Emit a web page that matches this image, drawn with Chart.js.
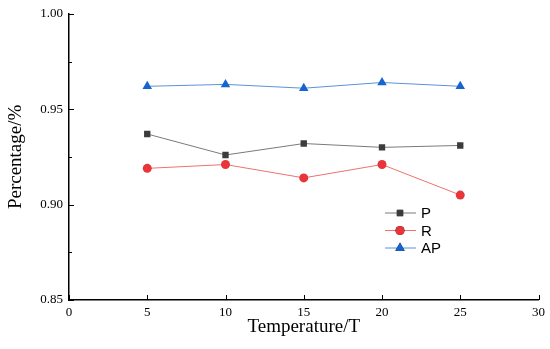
<!DOCTYPE html>
<html>
<head>
<meta charset="utf-8">
<script src="https://cdn.jsdelivr.net/npm/chart.js@4"></script>
<style>
  html, body { margin: 0; padding: 0; background: #fff; }
  #wrap { width: 550px; height: 349px; }
</style>
</head>
<body>
<div id="wrap"><canvas id="linechart"></canvas></div>
<script>
'use strict';
const temps = [5, 10, 15, 20, 25];
const pVals = [0.937, 0.926, 0.932, 0.930, 0.931];
const rVals = [0.919, 0.921, 0.914, 0.921, 0.905];
const apVals = [0.962, 0.963, 0.961, 0.964, 0.962];
const seriesNames = ['P', 'R', 'AP'];

const toPoints = vals => temps.map((t, i) => ({x: t, y: vals[i]}));

// inward tick marks on bottom and left axes
const inwardTicks = {
    id: 'inwardTicks',
    afterDraw(chart) {
        const ctx = chart.ctx;
        const xs = chart.scales.x, ys = chart.scales.y;
        ctx.save();
        ctx.strokeStyle = '#000';
        ctx.lineWidth = 1;
        ctx.beginPath();
        xs.ticks.forEach(t => {
            const px = Math.round(xs.getPixelForValue(t.value)) + 0.5;
            ctx.moveTo(px, ys.bottom);
            ctx.lineTo(px, ys.bottom - 5);
        });
        ys.ticks.forEach(t => {
            const py = Math.round(ys.getPixelForValue(t.value)) + 0.5;
            const major = Math.abs(Math.round(t.value * 1000) % 50) < 1;
            ctx.moveTo(xs.left, py);
            ctx.lineTo(xs.left + (major ? 5 : 3), py);
        });
        ctx.stroke();
        ctx.restore();
    }
};

// legend drawn inside the plot
const innerLegend = {
    id: 'innerLegend',
    afterDraw(chart) {
        const ctx = chart.ctx;
        ctx.save();
        chart.data.datasets.forEach((ds, i) => {
            const y = 213 + i * 17.5;
            ctx.strokeStyle = ds.borderColor;
            ctx.lineWidth = 1;
            ctx.beginPath();
            ctx.moveTo(385, y);
            ctx.lineTo(416, y);
            ctx.stroke();
            Chart.helpers.drawPoint(ctx, {
                pointStyle: ds.pointStyle,
                radius: ds.pointRadius,
                borderWidth: 0
            }, 400, y);
            ctx.fillStyle = ds.pointBackgroundColor;
            ctx.fill();
            ctx.fillStyle = '#000';
            ctx.font = '15px "Liberation Sans", Arial, sans-serif';
            ctx.textBaseline = 'middle';
            ctx.fillText(ds.label, 421, y + 1);
        });
        ctx.restore();
    }
};

new Chart(document.querySelector('#linechart'), {
    type: 'line',
    data: {
        datasets: [{
            label: seriesNames[0],
            data: toPoints(pVals),
            borderColor: '#7a7a7a',
            borderWidth: 1,
            pointStyle: 'rect',
            pointRadius: 4.5,
            pointBackgroundColor: '#3c3c3c',
            pointBorderWidth: 0
        },
        {
            label: seriesNames[1],
            data: toPoints(rVals),
            borderColor: '#f07070',
            borderWidth: 1,
            pointStyle: 'circle',
            pointRadius: 4.5,
            pointBackgroundColor: '#e8353a',
            pointBorderWidth: 0
        },
        {
            label: seriesNames[2],
            data: toPoints(apVals),
            borderColor: '#5b93d6',
            borderWidth: 1,
            pointStyle: 'triangle',
            pointRadius: 5.5,
            pointBackgroundColor: '#1565d0',
            pointBorderWidth: 0
        }
    ]},
    options: {
        responsive: true,
        maintainAspectRatio: false,
        animation: false,
        layout: { padding: { top: 12, right: 11, left: 0, bottom: 0 } },
        plugins: {
            legend: { display: false },
            tooltip: { enabled: false }
        },
        scales: {
            x: {
                type: 'linear',
                min: 0,
                max: 30,
                ticks: {
                    stepSize: 5,
                    color: '#000',
                    padding: 5,
                    maxRotation: 0,
                    font: { family: '"Liberation Serif", "Times New Roman", serif', size: 13 }
                },
                grid: { display: false, drawTicks: false },
                border: { display: true, color: '#000', width: 1.5 },
                title: {
                    display: true,
                    text: 'Temperature/T',
                    color: '#000',
                    padding: { top: 2, bottom: 11 },
                    font: { family: '"Liberation Serif", "Times New Roman", serif', size: 19 }
                },
                afterFit: scale => { scale.height = 49; }
            },
            y: {
                min: 0.85,
                max: 1.0,
                ticks: {
                    stepSize: 0.025,
                    color: '#000',
                    padding: 6,
                    autoSkip: false,
                    font: { family: '"Liberation Serif", "Times New Roman", serif', size: 13 },
                    callback: v => (Math.abs(Math.round(v * 1000) % 50) < 1 ? v.toFixed(2) : '')
                },
                grid: { display: false, drawTicks: false },
                border: { display: true, color: '#000', width: 1.5 },
                title: {
                    display: true,
                    text: 'Percentage/%',
                    color: '#000',
                    padding: { top: 5, bottom: 4 },
                    font: { family: '"Liberation Serif", "Times New Roman", serif', size: 19 }
                },
                afterFit: scale => { scale.width = 69; }
            }
        }
    },
    plugins: [inwardTicks, innerLegend]
});
</script>
</body>
</html>
